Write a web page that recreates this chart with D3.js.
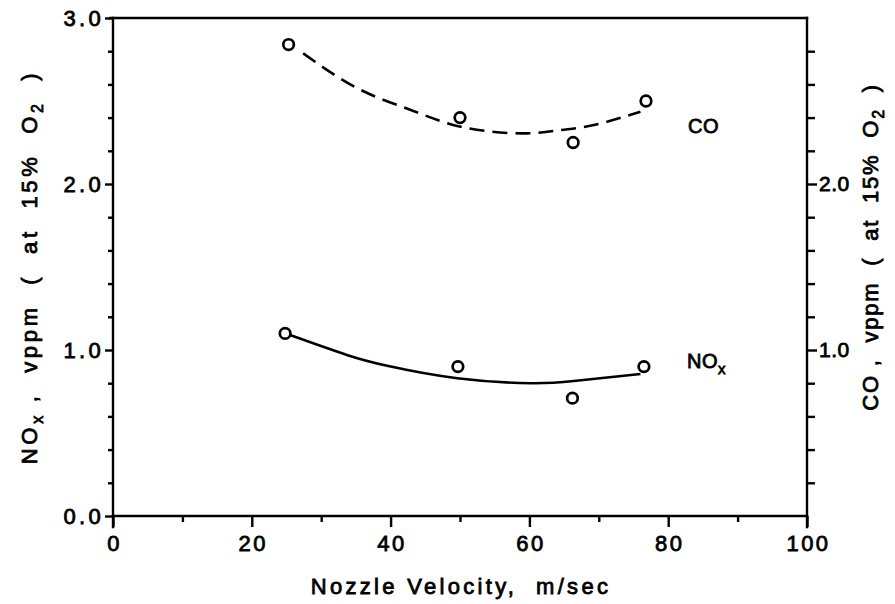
<!DOCTYPE html>
<html>
<head>
<meta charset="utf-8">
<script src="https://cdn.jsdelivr.net/npm/d3@7"></script>
<style>
  body { margin: 0; background: #fff; }
  svg { display: block; background: #fff; }
  text {
    font-family: "Liberation Sans", Arial, sans-serif; font-weight: normal;
    fill: #000; stroke: #000; stroke-width: 0.8px; white-space: pre;
  }
</style>
</head>
<body>
<svg id="chart" width="895" height="604"></svg>
<script>
// Measured emissions (vppm at 15% O2) against nozzle velocity (m/s)
const noxVelocity = [24.8, 49.7, 66.2, 76.5];
const noxValues   = [1.10, 0.90, 0.71, 0.90];
const coVelocity  = [25.3, 50.0, 66.3, 76.8];
const coValues    = [2.84, 2.40, 2.25, 2.50];

// Fitted trend curves, traced as knot points
const noxFitVelocity = [25.5, 33.7, 39.5, 49.6, 60.2, 66.4, 76.0];
const noxFitValues   = [1.090, 0.970, 0.905, 0.830, 0.800, 0.813, 0.855];
const coFitVelocity  = [27.4, 35.2, 42.9, 50.1, 58.7, 64.5, 69.3, 76.0];
const coFitValues    = [2.787, 2.577, 2.446, 2.345, 2.305, 2.325, 2.355, 2.435];

// Axis ticks and labels
const xMajorTicks = [0, 20, 40, 60, 80, 100];
const xMinorTicks = [10, 30, 50, 70, 90];
const leftMajorTicks = [0, 1, 2, 3];
const leftTickLabels = ["0.0", "1.0", "2.0", "3.0"];
const rightMajorTicks = [1, 2];
const rightTickLabels = ["1.0", "2.0"];
const yMinorTicks = [0.2, 0.4, 0.6, 0.8, 1.2, 1.4, 1.6, 1.8, 2.2, 2.4, 2.6, 2.8];

const svg = d3.select("#chart");
const plotLeft = 113, plotRight = 807, plotTop = 18, plotBottom = 516;

const x = d3.scaleLinear().domain([0, 100]).range([plotLeft, plotRight]);
const y = d3.scaleLinear().domain([0, 3]).range([plotBottom, plotTop]);

const strokeW = 2.4;

function styleAxis(g, fontSize, spacing) {
  g.attr("font-family", null).attr("font-size", null);
  g.select(".domain").remove();
  g.selectAll(".tick line").attr("stroke", "#000").attr("stroke-width", strokeW);
  g.selectAll(".tick text")
    .style("font-size", fontSize + "px")
    .style("letter-spacing", spacing + "px")
    .attr("fill", "#000");
}

// Bottom axis
svg.append("g").attr("transform", `translate(0,${plotBottom})`)
  .call(d3.axisBottom(x).tickValues(xMinorTicks).tickSize(6).tickFormat(""))
  .call(g => styleAxis(g, 22, 2.5));
svg.append("g").attr("transform", `translate(0,${plotBottom})`)
  .call(d3.axisBottom(x).tickValues(xMajorTicks).tickSize(11).tickPadding(8).tickFormat(d3.format("d")))
  .call(g => styleAxis(g, 22, 2.5))
  .call(g => g.selectAll(".tick text").attr("dx", "1px"));

// Left axis
svg.append("g").attr("transform", `translate(${plotLeft},0)`)
  .call(d3.axisLeft(y).tickValues(yMinorTicks).tickSize(5).tickFormat(""))
  .call(g => styleAxis(g, 22, 3));
svg.append("g").attr("transform", `translate(${plotLeft},0)`)
  .call(d3.axisLeft(y).tickValues(leftMajorTicks).tickSize(8).tickPadding(1)
    .tickFormat((d, i) => leftTickLabels[i]))
  .call(g => styleAxis(g, 22, 3.3));

// Right axis
svg.append("g").attr("transform", `translate(${plotRight},0)`)
  .call(d3.axisRight(y).tickValues(yMinorTicks).tickSize(8).tickFormat(""))
  .call(g => styleAxis(g, 21, 0.5));
svg.append("g").attr("transform", `translate(${plotRight},0)`)
  .call(d3.axisRight(y).tickValues(rightMajorTicks).tickSize(10).tickPadding(2)
    .tickFormat((d, i) => rightTickLabels[i]))
  .call(g => styleAxis(g, 21, 0.5));

// Frame
const frame = svg.append("g").attr("stroke", "#000").attr("stroke-width", strokeW)
  .attr("stroke-linecap", "square");
frame.append("line").attr("x1", plotLeft - 3).attr("x2", plotRight).attr("y1", plotTop).attr("y2", plotTop);
frame.append("line").attr("x1", plotLeft).attr("x2", plotRight).attr("y1", plotBottom).attr("y2", plotBottom);
frame.append("line").attr("x1", plotLeft).attr("x2", plotLeft).attr("y1", plotTop).attr("y2", plotBottom + 11);
frame.append("line").attr("x1", plotRight).attr("x2", plotRight).attr("y1", plotTop).attr("y2", plotBottom + 11);

// Fitted curves
const line = d3.line().x(d => x(d[0])).y(d => y(d[1])).curve(d3.curveNatural);
svg.append("path")
  .datum(d3.zip(noxFitVelocity, noxFitValues))
  .attr("d", line).attr("fill", "none").attr("stroke", "#000").attr("stroke-width", 2.6);
svg.append("path")
  .datum(d3.zip(coFitVelocity, coFitValues))
  .attr("d", line).attr("fill", "none").attr("stroke", "#000").attr("stroke-width", 2.6)
  .attr("stroke-dasharray", "15,8");

// Data markers
function markers(xs, ys) {
  svg.append("g").selectAll("circle")
    .data(d3.zip(xs, ys)).join("circle")
    .attr("cx", d => x(d[0])).attr("cy", d => y(d[1])).attr("r", 5.3)
    .attr("fill", "none").attr("stroke", "#000").attr("stroke-width", 2.7);
}
markers(noxVelocity, noxValues);
markers(coVelocity, coValues);

// Series labels
svg.append("text").attr("x", 688).attr("y", 133)
  .style("font-size", "20px").style("letter-spacing", "0.5px").text("CO");
const noxLabel = svg.append("text").attr("x", 687).attr("y", 368)
  .style("font-size", "20px").style("letter-spacing", "0.5px");
noxLabel.append("tspan").text("NO");
noxLabel.append("tspan").attr("dy", 6).style("font-size", "15px").text("x");

// Axis titles
svg.append("text").attr("x", (plotLeft + plotRight) / 2 + 1).attr("y", 594)
  .attr("text-anchor", "middle")
  .style("font-size", "22px").style("letter-spacing", "3.3px")
  .text("Nozzle Velocity,  m/sec");

function concTitle(tx, ty, species, subscript, spacing) {
  const t = svg.append("text")
    .attr("transform", `translate(${tx},${ty}) rotate(-90)`)
    .attr("text-anchor", "middle")
    .style("font-size", "22px").style("letter-spacing", spacing + "px");
  t.append("tspan").text(species);
  if (subscript) t.append("tspan").attr("dy", 6).style("font-size", "16px").text(subscript);
  t.append("tspan").attr("dy", subscript ? -6 : 0).text(" ,  vppm  (  at  15%  O");
  t.append("tspan").attr("dy", 6).style("font-size", "16px").text("2");
  t.append("tspan").attr("dy", -6).text("  )");
}
concTitle(37, 267, "NO", "x", 3.7);
concTitle(878, 247, "CO", null, 1.8);
</script>
</body>
</html>
